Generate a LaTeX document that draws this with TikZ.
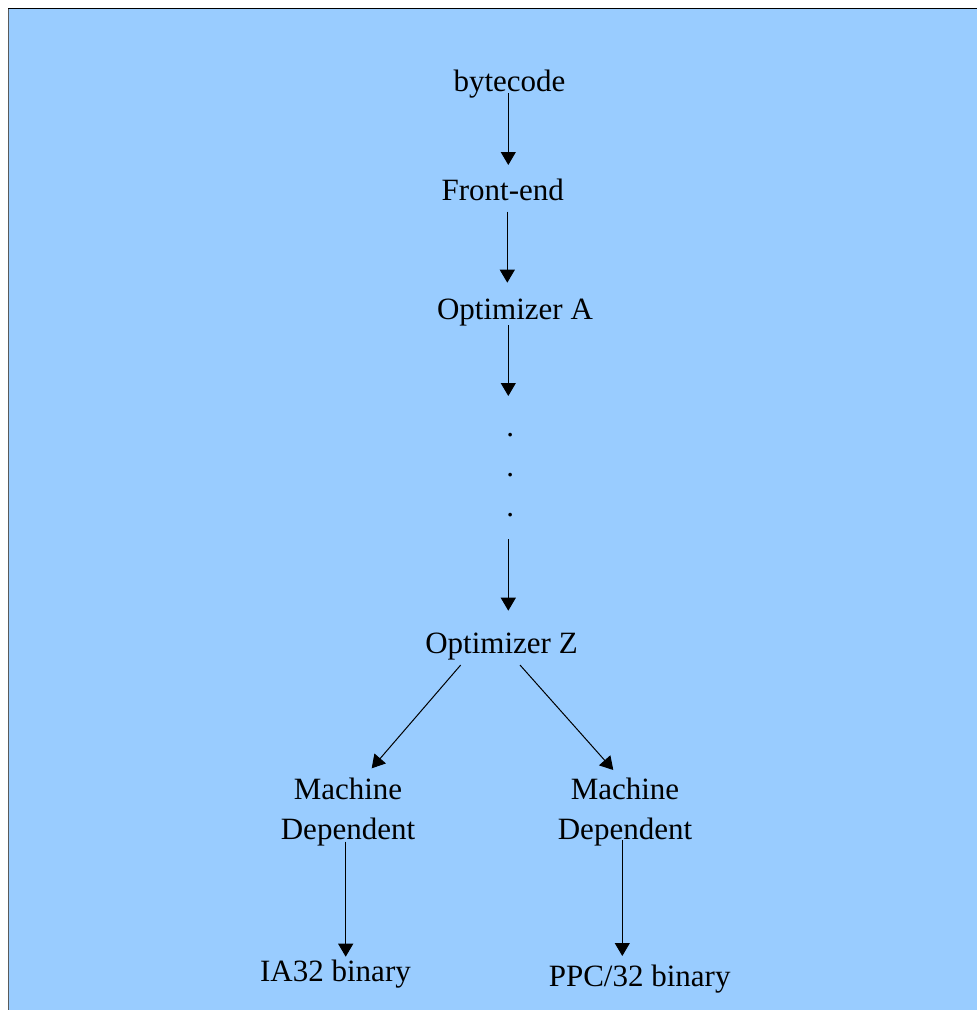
\documentclass[tikz,border=0pt]{standalone}
\usepackage{fontspec}
\setmainfont{Liberation Serif}
\usetikzlibrary{arrows.meta}
\definecolor{panelblue}{HTML}{99CCFF}
\definecolor{edgegray}{HTML}{5A5A5A}
\begin{document}
\begin{tikzpicture}[x=1pt,y=-1pt,
  lbl/.style={anchor=base,inner sep=0pt,outer sep=0pt,
    font=\fontsize{31}{40}\selectfont},
  flow/.style={-{Triangle[length=13pt,width=15pt]},line width=1pt,black}]
  \useasboundingbox (0,0) rectangle (977,1010);
  \clip (0,0) rectangle (977,1010);
  % panel
  \fill[white] (0,0) rectangle (977,1010);
  \fill[panelblue] (8.5,8.5) rectangle (990,1025);
  \draw[black,line width=1.4pt] (8,8.5) -- (990,8.5);
  \draw[edgegray,line width=1.2pt] (8.5,8.5) -- (8.5,1025);

  % pipeline stages
  \node[lbl] (byte)  at (509.5,91.7)  {bytecode};
  \node[lbl] (front) at (502.8,200)   {Front-end};
  \node[lbl] (optA)  at (515,319.5)   {Optimizer A};
  \node[lbl] (d1)    at (510.3,436.5) {.};
  \node[lbl] (d2)    at (510.3,476.5) {.};
  \node[lbl] (d3)    at (510.3,516.5) {.};
  \node[lbl] (optZ)  at (501.5,653.3) {Optimizer Z};
  \node[lbl] (mdl)   at (348,839.3)
    {\begin{tabular}[b]{@{}c@{}}Machine\\Dependent\end{tabular}};
  \node[lbl] (mdr)   at (625,839.3)
    {\begin{tabular}[b]{@{}c@{}}Machine\\Dependent\end{tabular}};
  \node[lbl] (ia)    at (335.5,981.7) {IA32 binary};
  \node[lbl] (ppc)   at (639.7,986.7) {PPC/32 binary};

  % connectors
  \draw[flow] ([xshift=-1.2pt,yshift=-1.6pt]byte.base)
           -- ([xshift=5.5pt,yshift=35pt]front.base);
  \draw[flow] ([xshift=4.5pt,yshift=-11.7pt]front.base)
           -- ([xshift=-7.7pt,yshift=36.8pt]optA.base);
  \draw[flow] ([xshift=-6.7pt,yshift=-5.5pt]optA.base)
           -- ([xshift=-2pt,yshift=40.5pt]d1.base);
  \draw[flow] ([xshift=-2pt,yshift=-22.8pt]d3.base)
           -- ([xshift=6.8pt,yshift=42.6pt]optZ.base);
  \draw[flow] ([xshift=-40.8pt,yshift=-11.7pt]optZ.base)
           -- ([xshift=23.7pt,yshift=71pt]mdl.base);
  \draw[flow] ([xshift=18.5pt,yshift=-11.7pt]optZ.base)
           -- ([xshift=-11.7pt,yshift=69.3pt]mdr.base);
  \draw[flow] ([xshift=-2.3pt,yshift=-2.4pt]mdl.base)
           -- ([xshift=10.2pt,yshift=25pt]ia.base);
  \draw[flow] ([xshift=-2.7pt,yshift=-0.7pt]mdr.base)
           -- ([xshift=-17.4pt,yshift=30.7pt]ppc.base);
\end{tikzpicture}
\end{document}
